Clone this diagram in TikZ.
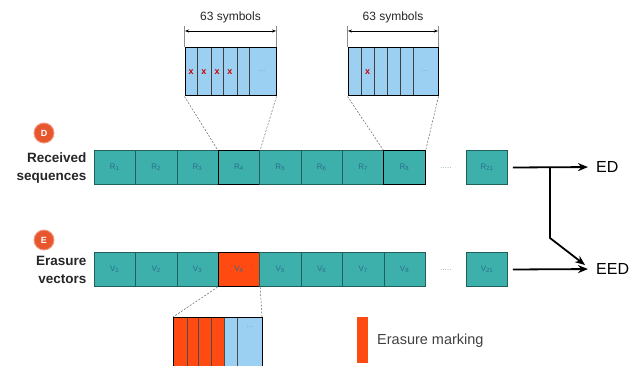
\documentclass[tikz,border=0pt]{standalone}
\usepackage{fontspec}
\setmainfont{Liberation Sans}
\usetikzlibrary{arrows.meta}
\definecolor{tealcell}{HTML}{3DB0AC}
\definecolor{tealedge}{HTML}{1F5F5C}
\definecolor{celltxt}{HTML}{2A6E8C}
\definecolor{skyblue}{HTML}{9CD0F2}
\definecolor{erase}{HTML}{FF4A12}
\definecolor{badge}{HTML}{E8562E}
\tikzset{
  x=1pt, y=-1pt,
  cell/.style={draw=tealedge, line width=0.5pt, fill=tealcell, minimum width=41.4pt,
    minimum height=34pt, inner sep=0pt, text=celltxt, font=\fontsize{8}{9}\selectfont},
  hicell/.style={cell, draw=black, line width=1.2pt},
  redcell/.style={hicell, fill=erase},
  frame/.style={draw=black, line width=1pt},
  zoomline/.style={draw=black!60, line width=0.5pt, dash pattern=on 2pt off 1.5pt},
  badgenode/.style={circle, fill=badge, draw=badge!60!white, line width=1pt, text=white,
    minimum size=20pt, inner sep=0pt, font=\fontsize{9}{9}\selectfont\bfseries},
  rowlabel/.style={align=right, anchor=east, font=\fontsize{13.5}{18}\selectfont\bfseries, text=black!85},
  flow/.style={line width=1.8pt, -{Stealth[length=10pt,width=8pt]}},
  outlabel/.style={anchor=west, font=\fontsize{16}{16}\selectfont, inner sep=0pt},
  dim/.style={line width=0.6pt, {Stealth[length=4pt,width=3pt]}-{Stealth[length=4pt,width=3pt]}},
  ext/.style={draw=black!45, line width=0.4pt},
  xmark/.style={text=red!80!black, font=\fontsize{9}{9}\selectfont\bfseries, inner sep=0pt},
  dotsmark/.style={text=celltxt!60, font=\fontsize{8}{8}\selectfont, inner sep=0pt},
  sizelabel/.style={font=\fontsize{12}{12}\selectfont, text=black!85, inner sep=0pt}
}
\begin{document}
\begin{tikzpicture}
\useasboundingbox (0,0) rectangle (629,366);

% ---- received sequences row ----
\node[badgenode] (bD) at (44,133) {D};
\node[rowlabel] (lR) at (90,168) {Received\\sequences};
\node[cell]   (r1) at (114.7,167.5) {R\textsubscript{1}};
\node[cell]   (r2) at (156.1,167.5) {R\textsubscript{2}};
\node[cell]   (r3) at (197.5,167.5) {R\textsubscript{3}};
\node[hicell] (r4) at (238.9,167.5) {R\textsubscript{4}};
\node[cell]   (r5) at (280.3,167.5) {R\textsubscript{5}};
\node[cell]   (r6) at (321.7,167.5) {R\textsubscript{6}};
\node[cell]   (r7) at (363.1,167.5) {R\textsubscript{7}};
\node[hicell] (r8) at (404.5,167.5) {R\textsubscript{8}};
\node[dotsmark] (rd) at (446,168) {.....};
\node[cell]   (r21) at (487,167.5) {R\textsubscript{21}};

% ---- erasure vectors row ----
\node[badgenode] (bE) at (44,240) {E};
\node[rowlabel] (lV) at (90,270) {Erasure\\vectors};
\node[cell]    (v1) at (114.7,269.5) {V\textsubscript{1}};
\node[cell]    (v2) at (156.1,269.5) {V\textsubscript{2}};
\node[cell]    (v3) at (197.5,269.5) {V\textsubscript{3}};
\node[redcell] (v4) at (238.9,269.5) {V\textsubscript{4}};
\node[cell]    (v5) at (280.3,269.5) {V\textsubscript{5}};
\node[cell]    (v6) at (321.7,269.5) {V\textsubscript{6}};
\node[cell]    (v7) at (363.1,269.5) {V\textsubscript{7}};
\node[cell]    (v8) at (404.5,269.5) {V\textsubscript{8}};
\node[dotsmark] (vd) at (446,270) {.....};
\node[cell]    (v21) at (487,269.5) {V\textsubscript{21}};

% ---- outputs ----
\node[outlabel] (ED)  at (596,167) {ED};
\node[outlabel] (EED) at (596,269) {EED};
\coordinate (split) at (550,167);
\coordinate (bend) at (550,238);
\draw[flow, shorten >=8pt] ([xshift=5pt]r21.east) -- (ED.west);
\draw[flow, shorten >=8pt] ([xshift=5pt]v21.east) -- (EED.west);
\draw[flow] (split) -- (bend) -- (585,265);

% ---- zoomed symbols of R4 ----
\foreach \a/\b in {185/197,197/211,211/223,223/237,237/249,249/276}
  \fill[skyblue] (\a,48) rectangle (\b,96);
\foreach \a in {197,211,223,237,249} \draw[black!75, line width=0.5pt] (\a,48) -- (\a,96);
\node[frame, minimum width=91pt, minimum height=48pt, inner sep=0pt] (zA) at (230.5,72) {};
\foreach \c in {191,204,217,230} \node[xmark] at (\c,72) {x};
\node[dotsmark] (dA) at (262,71) {...};
\draw[ext] (zA.north west) -- ++(0,-21);
\draw[ext] (zA.north east) -- ++(0,-21);
\draw[dim] (185,31) -- (276,31);
\node[sizelabel] (sA) at (230.5,17) {63 symbols};
\draw[zoomline] (zA.south west) -- (r4.north west);
\draw[zoomline] (zA.south east) -- (r4.north east);

% ---- zoomed symbols of R8 ----
\foreach \a/\b in {348/361,361/374,374/387,387/400,400/413,413/438}
  \fill[skyblue] (\a,48) rectangle (\b,96);
\foreach \a in {361,374,387,400,413} \draw[black!75, line width=0.5pt] (\a,48) -- (\a,96);
\node[frame, minimum width=90pt, minimum height=48pt, inner sep=0pt] (zB) at (393,72) {};
\node[xmark] at (367.5,72) {x};
\node[dotsmark] (dB) at (425,71) {...};
\draw[ext] (zB.north west) -- ++(0,-21);
\draw[ext] (zB.north east) -- ++(0,-21);
\draw[dim] (348,31) -- (438,31);
\node[sizelabel] (sB) at (393,17) {63 symbols};
\draw[zoomline] (zB.south west) -- (r8.north west);
\draw[zoomline] (zB.south east) -- (r8.north east);

% ---- zoomed erasure vector V4 ----
\fill[erase] (173,317) rectangle (224,366);
\fill[skyblue] (224,317) rectangle (262,366);
\foreach \a in {187,198,211} \draw[black!70, line width=0.5pt] (\a,317) -- (\a,366);
\foreach \a in {224,237} \draw[black!70, line width=0.5pt] (\a,317) -- (\a,366);
\draw[black, line width=1pt] (173,366) -- (173,317) -- (262,317) -- (262,366);
\coordinate (zCw) at (173,317);
\coordinate (zCe) at (262,317);
\node[dotsmark] (dC) at (250,327) {...};
\draw[zoomline] (v4.south west) -- (zCw);
\draw[zoomline] (v4.south east) -- (zCe);

% ---- legend ----
\node[fill=erase, minimum width=11pt, minimum height=46pt, inner sep=0pt] (key) at (362.5,340) {};
\node[anchor=west, font=\fontsize{14.5}{14.5}\selectfont, text=black!75, inner sep=0pt] (keytxt) at (377,341) {Erasure marking};
\end{tikzpicture}
\end{document}
